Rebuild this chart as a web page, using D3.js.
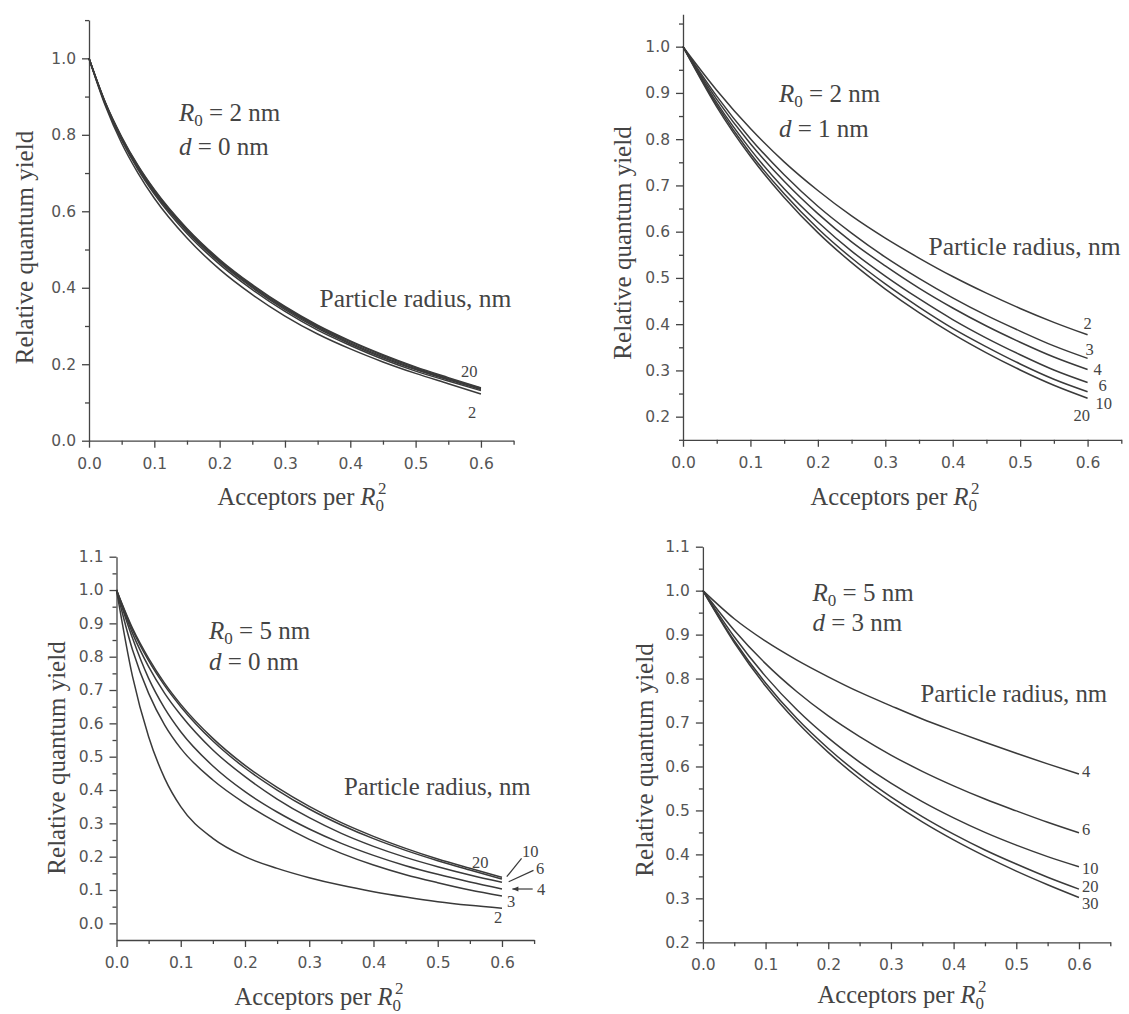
<!DOCTYPE html>
<html><head><meta charset="utf-8">
<script src="https://cdn.jsdelivr.net/npm/d3@7"></script>
<style>
body{margin:0;background:#ffffff}
svg{display:block}
.tick text{font-family:"DejaVu Sans",sans-serif;font-size:15.5px;fill:#555}
.serif{font-family:"Liberation Serif","Times New Roman",serif;fill:#444}
</style></head><body>
<svg id="chart" width="1129" height="1014"></svg>
<script>
// ---------------- DATA ----------------
const xGridFine   = [0, 0.025, 0.05, 0.075, 0.1, 0.15, 0.2, 0.25, 0.3, 0.35, 0.4, 0.45, 0.5, 0.55, 0.6];
const xGridCoarse = [0, 0.05, 0.1, 0.15, 0.2, 0.25, 0.3, 0.35, 0.4, 0.45, 0.5, 0.55, 0.6];

// Panel A: R0 = 2 nm, d = 0 nm
const radiiA = ["2", "3", "4", "6", "10", "20"];
const yieldA_r2  = [1, 0.876, 0.778, 0.700, 0.634, 0.530, 0.448, 0.382, 0.326, 0.279, 0.240, 0.206, 0.176, 0.149, 0.122];
const yieldA_r3  = [1, 0.880, 0.786, 0.709, 0.645, 0.542, 0.461, 0.395, 0.338, 0.289, 0.249, 0.213, 0.182, 0.156, 0.131];
const yieldA_r4  = [1, 0.882, 0.789, 0.713, 0.649, 0.547, 0.466, 0.400, 0.343, 0.294, 0.253, 0.217, 0.186, 0.159, 0.134];
const yieldA_r6  = [1, 0.883, 0.791, 0.716, 0.652, 0.550, 0.469, 0.403, 0.346, 0.297, 0.256, 0.220, 0.188, 0.161, 0.136];
const yieldA_r10 = [1, 0.884, 0.793, 0.718, 0.655, 0.553, 0.472, 0.406, 0.349, 0.300, 0.259, 0.223, 0.191, 0.163, 0.137];
const yieldA_r20 = [1, 0.885, 0.795, 0.720, 0.657, 0.555, 0.474, 0.408, 0.351, 0.302, 0.261, 0.225, 0.193, 0.165, 0.138];

// Panel B: R0 = 2 nm, d = 1 nm
const radiiB = ["2", "3", "4", "6", "10", "20"];
const yieldB_r2  = [1, 0.906, 0.823, 0.751, 0.689, 0.634, 0.586, 0.543, 0.503, 0.467, 0.434, 0.404, 0.377];
const yieldB_r3  = [1, 0.893, 0.801, 0.723, 0.655, 0.597, 0.545, 0.499, 0.457, 0.419, 0.385, 0.353, 0.326];
const yieldB_r4  = [1, 0.886, 0.790, 0.709, 0.639, 0.578, 0.526, 0.478, 0.435, 0.396, 0.361, 0.329, 0.302];
const yieldB_r6  = [1, 0.879, 0.778, 0.693, 0.621, 0.558, 0.504, 0.455, 0.410, 0.370, 0.334, 0.301, 0.274];
const yieldB_r10 = [1, 0.874, 0.769, 0.682, 0.607, 0.543, 0.487, 0.437, 0.391, 0.351, 0.314, 0.281, 0.254];
const yieldB_r20 = [1, 0.870, 0.763, 0.674, 0.598, 0.533, 0.476, 0.425, 0.379, 0.338, 0.301, 0.268, 0.240];

// Panel C: R0 = 5 nm, d = 0 nm
const radiiC = ["2", "3", "4", "6", "10", "20"];
const yieldC_r2  = [1, 0.740, 0.560, 0.435, 0.350, 0.255, 0.200, 0.165, 0.137, 0.114, 0.095, 0.079, 0.065, 0.054, 0.045];
const yieldC_r3  = [1, 0.820, 0.690, 0.595, 0.525, 0.430, 0.360, 0.302, 0.252, 0.210, 0.175, 0.146, 0.122, 0.100, 0.082];
const yieldC_r4  = [1, 0.855, 0.735, 0.645, 0.575, 0.472, 0.395, 0.334, 0.283, 0.240, 0.204, 0.173, 0.147, 0.124, 0.103];
const yieldC_r6  = [1, 0.870, 0.770, 0.690, 0.625, 0.520, 0.440, 0.373, 0.317, 0.270, 0.231, 0.198, 0.170, 0.145, 0.123];
const yieldC_r10 = [1, 0.880, 0.788, 0.713, 0.650, 0.547, 0.466, 0.400, 0.343, 0.295, 0.254, 0.219, 0.188, 0.160, 0.133];
const yieldC_r20 = [1, 0.885, 0.795, 0.720, 0.657, 0.555, 0.474, 0.408, 0.351, 0.302, 0.261, 0.225, 0.193, 0.165, 0.138];

// Panel D: R0 = 5 nm, d = 3 nm
const radiiD = ["4", "6", "10", "20", "30"];
const yieldD_r4  = [1, 0.936, 0.885, 0.842, 0.804, 0.769, 0.738, 0.708, 0.681, 0.655, 0.630, 0.606, 0.583];
const yieldD_r6  = [1, 0.910, 0.834, 0.770, 0.715, 0.668, 0.626, 0.589, 0.556, 0.526, 0.499, 0.473, 0.449];
const yieldD_r10 = [1, 0.895, 0.805, 0.729, 0.665, 0.610, 0.562, 0.520, 0.483, 0.450, 0.421, 0.395, 0.372];
const yieldD_r20 = [1, 0.886, 0.790, 0.709, 0.641, 0.582, 0.531, 0.486, 0.446, 0.410, 0.378, 0.348, 0.321];
const yieldD_r30 = [1, 0.882, 0.783, 0.701, 0.632, 0.572, 0.520, 0.474, 0.433, 0.396, 0.362, 0.331, 0.302];

// Tick labels
const xMajorTicks = [0, 0.1, 0.2, 0.3, 0.4, 0.5, 0.6];
const xMinorTicks = [0.05, 0.15, 0.25, 0.35, 0.45, 0.55, 0.65];
const yMajorA = [0, 0.2, 0.4, 0.6, 0.8, 1.0];
const yMinorA = [0.1, 0.3, 0.5, 0.7, 0.9, 1.1];
const yMajorB = [0.2, 0.3, 0.4, 0.5, 0.6, 0.7, 0.8, 0.9, 1.0];
const yMinorB = [0.15, 0.25, 0.35, 0.45, 0.55, 0.65, 0.75, 0.85, 0.95, 1.05];
const yMajorC = [0, 0.1, 0.2, 0.3, 0.4, 0.5, 0.6, 0.7, 0.8, 0.9, 1.0, 1.1];
const yMinorC = [0.05, 0.15, 0.25, 0.35, 0.45, 0.55, 0.65, 0.75, 0.85, 0.95, 1.05];
const yMajorD = [0.2, 0.3, 0.4, 0.5, 0.6, 0.7, 0.8, 0.9, 1.0, 1.1];
const yMinorD = [0.25, 0.35, 0.45, 0.55, 0.65, 0.75, 0.85, 0.95, 1.05];

// Texts
const yTitle = "Relative quantum yield";
const particleText = "Particle radius, nm";
const r0Values = ["2", "2", "5", "5"];
const dValues = ["0", "1", "0", "3"];

// ---------------- LAYOUT ----------------
const panels = [
  { xPix:[89, 513.6], yDom:[0, 1.1], yPix:[440.7, 20.1], grid:xGridFine, radii:radiiA,
    series:[yieldA_r2, yieldA_r3, yieldA_r4, yieldA_r6, yieldA_r10, yieldA_r20],
    yMajor:yMajorA, yMinor:yMinorA,
    r0Pos:[179, 121], dPos:[179, 155], partPos:[319.5, 307], partSize:25.5,
    yTitlePos:[24.5, 247.5], xTitlePos:[302, 505],
    labels:{"20":[-20,-11], "2":[-13,24]} },
  { xPix:[683, 1121.3], yDom:[0.15, 1.07], yPix:[439.8, 14.3], grid:xGridCoarse, radii:radiiB,
    series:[yieldB_r2, yieldB_r3, yieldB_r4, yieldB_r6, yieldB_r10, yieldB_r20],
    yMajor:yMajorB, yMinor:yMinorB,
    r0Pos:[779, 102], dPos:[779, 136.7], partPos:[928.6, 255], partSize:25.5,
    yTitlePos:[622.7, 243], xTitlePos:[895, 505],
    labels:{"2":[-4,-6], "3":[-2,-3], "4":[6,5], "6":[11,8.5], "10":[8,17.5], "20":[-14,22.5]} },
  { xPix:[116.5, 534.1], yDom:[-0.05, 1.1], yPix:[940, 556.7], grid:xGridFine, radii:radiiC,
    series:[yieldC_r2, yieldC_r3, yieldC_r4, yieldC_r6, yieldC_r10, yieldC_r20],
    yMajor:yMajorC, yMinor:yMinorC,
    r0Pos:[209, 639], dPos:[209, 670], partPos:[344, 795], partSize:24.8,
    yTitlePos:[56.4, 758], xTitlePos:[319, 1005],
    labels:{"20":[-30,-9], "10":[20,-22.5], "6":[34,-8], "4":[35,6], "3":[5,11], "2":[-8,15]},
    pointers:{"10":[[4.8,-2.3],[19.6,-20.7],false], "6":[[6.7,-0.6],[31.5,-12],false], "4":[[10.4,0],[30.7,0],true]} },
  { xPix:[702.9, 1110.3], yDom:[0.2, 1.1], yPix:[942.3, 546.7], grid:xGridCoarse, radii:radiiD,
    series:[yieldD_r4, yieldD_r6, yieldD_r10, yieldD_r20, yieldD_r30],
    yMajor:yMajorD, yMinor:yMinorD,
    r0Pos:[812.5, 601], dPos:[812.5, 631], partPos:[920.5, 701.7], partSize:24.8,
    yTitlePos:[644.7, 760], xTitlePos:[902, 1003],
    labels:{"4":[3,3.5], "6":[3,2], "10":[3,7], "20":[3,3], "30":[3,12]} }
];

const svg = d3.select("#chart");
svg.append("rect").attr("width",1129).attr("height",1014).attr("fill","#ffffff");

const ink = "#3a3a3a";

panels.forEach((p, pi) => {
  const x = d3.scaleLinear().domain([0, 0.65]).range(p.xPix);
  const y = d3.scaleLinear().domain(p.yDom).range(p.yPix);
  const g = svg.append("g");
  const xAxisY = y(p.yDom[0]);
  const yAxisX = x(0);

  // minor ticks
  g.append("g").attr("transform", `translate(0,${xAxisY})`)
    .call(d3.axisBottom(x).tickValues(xMinorTicks).tickSize(4).tickSizeOuter(0).tickFormat(""))
    .call(s => s.select(".domain").remove());
  g.append("g").attr("transform", `translate(${yAxisX},0)`)
    .call(d3.axisLeft(y).tickValues(p.yMinor).tickSize(4).tickSizeOuter(0).tickFormat(""))
    .call(s => s.select(".domain").remove());
  // major ticks
  g.append("g").attr("transform", `translate(0,${xAxisY})`)
    .call(d3.axisBottom(x).tickValues(xMajorTicks).tickSize(7).tickSizeOuter(0).tickPadding(10).tickFormat(d3.format(".1f")));
  g.append("g").attr("transform", `translate(${yAxisX},0)`)
    .call(d3.axisLeft(y).tickValues(p.yMajor).tickSize(7).tickSizeOuter(0).tickPadding(6).tickFormat(d3.format(".1f")));
  g.selectAll(".domain, .tick line").attr("stroke", "#444").attr("stroke-width", 1.3);

  // curves
  const line = d3.line().x((d, i) => x(p.grid[i])).y(d => y(d)).curve(d3.curveMonotoneX);
  p.series.forEach(vals => {
    g.append("path").attr("d", line(vals)).attr("fill", "none")
      .attr("stroke", ink).attr("stroke-width", 1.5);
  });

  // curve labels
  p.radii.forEach((r, i) => {
    const off = p.labels[r];
    if (!off) return;
    const vals = p.series[i];
    const ex = x(p.grid[p.grid.length - 1]);
    const ey = y(vals[vals.length - 1]);
    g.append("text").attr("class", "serif").attr("x", ex + off[0]).attr("y", ey + off[1])
      .attr("font-size", 16.5).text(r);
    if (p.pointers && p.pointers[r]) {
      const [a, b, arrow] = p.pointers[r];
      g.append("line").attr("x1", ex + a[0]).attr("y1", ey + a[1])
        .attr("x2", ex + b[0]).attr("y2", ey + b[1])
        .attr("stroke", ink).attr("stroke-width", 1.2);
      if (arrow) {
        const ax = ex + a[0], ay = ey + a[1];
        g.append("path").attr("d", `M${ax},${ay} l6,-2.5 l0,5 z`).attr("fill", ink);
      }
    }
  });

  // annotations
  const r0 = g.append("text").attr("class", "serif").attr("font-size", 25)
    .attr("x", p.r0Pos[0]).attr("y", p.r0Pos[1]);
  r0.append("tspan").attr("font-style", "italic").text("R");
  r0.append("tspan").attr("font-size", 17).attr("dy", 5).text("0");
  r0.append("tspan").attr("dy", -5).text(" = " + r0Values[pi] + " nm");

  const dt = g.append("text").attr("class", "serif").attr("font-size", 25)
    .attr("x", p.dPos[0]).attr("y", p.dPos[1]);
  dt.append("tspan").attr("font-style", "italic").text("d");
  dt.append("tspan").text(" = " + dValues[pi] + " nm");

  g.append("text").attr("class", "serif").attr("font-size", p.partSize)
    .attr("x", p.partPos[0]).attr("y", p.partPos[1]).text(particleText);

  g.append("text").attr("class", "serif").attr("font-size", 25)
    .attr("transform", `translate(${p.yTitlePos[0]},${p.yTitlePos[1]}) rotate(-90)`)
    .attr("text-anchor", "middle").attr("dy", "0.35em").text(yTitle);

  const xt = g.append("text").attr("class", "serif").attr("font-size", 24.5)
    .attr("x", p.xTitlePos[0]).attr("y", p.xTitlePos[1]).attr("text-anchor", "middle");
  xt.append("tspan").text("Acceptors per ");
  xt.append("tspan").attr("font-style", "italic").text("R");
  xt.append("tspan").attr("font-size", 17).attr("dy", 6).text("0");
  xt.append("tspan").attr("font-size", 17).attr("dx", -6).attr("dy", -17).text("2");
});
</script>
</body></html>
